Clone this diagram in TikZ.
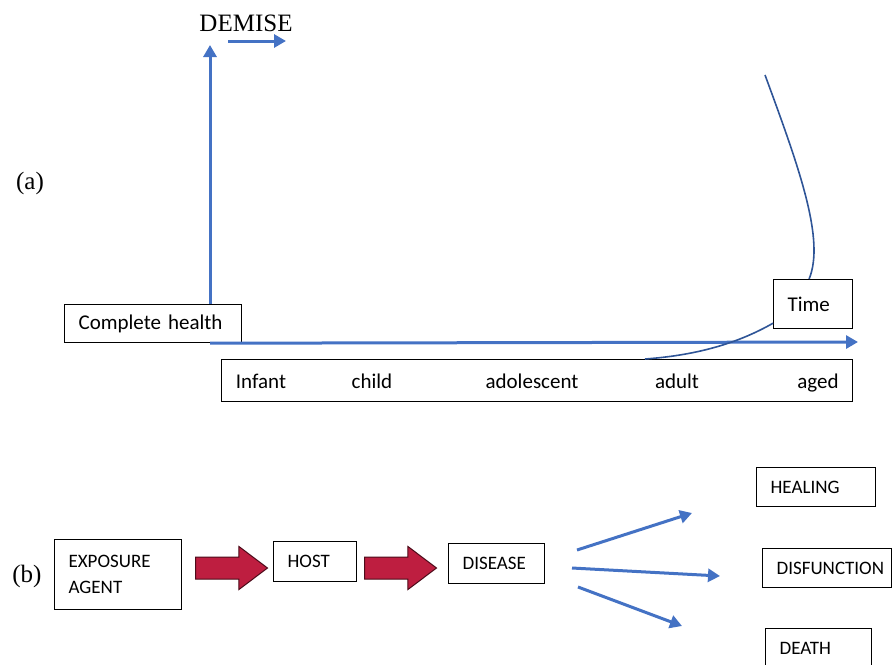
\documentclass[tikz,border=0pt]{standalone}
\usepackage{fontspec}
\setmainfont{Liberation Serif}
\setsansfont{Carlito}
\usetikzlibrary{arrows.meta,shapes.arrows}
\definecolor{axisblue}{HTML}{4472C4}
\definecolor{curveblue}{HTML}{2F5597}
\definecolor{blockred}{HTML}{BE1E40}

\begin{document}
\begin{tikzpicture}[x=0.5pt,y=-0.5pt,
  box/.style={draw,line width=0.6pt,fill=white,anchor=north west,inner xsep=7pt,inner ysep=0pt,align=left,font=\sffamily\fontsize{9.5}{13}\selectfont},
  lbl/.style={font=\sffamily\fontsize{10.5}{12}\selectfont},
  tag/.style={font=\fontsize{12.5}{14}\selectfont},
  axis/.style={axisblue,line width=1.5pt,-{Triangle[length=6pt,width=6.5pt]}},
  curve/.style={curveblue,line width=0.8pt},
  blockarrow/.style={single arrow,anchor=tail,draw=black!60!blockred,fill=blockred,line width=0.5pt,inner sep=5.25pt,single arrow head extend=5.25pt,single arrow tip angle=74,minimum height=36pt}]

\useasboundingbox (0,0) rectangle (892,664);

% (a) health over the life course
\node[tag] (labela) at (30,183) {(a)};
\node[tag] (demise) at (246,23) {DEMISE};
\node[box,lbl,text width=74.5pt,minimum height=19pt] (health) at (64,304) {Complete health};
\node[box,minimum width=315.5pt,minimum height=21pt] (timeline) at (221,359) {};
\node[box,lbl,text width=25.5pt,minimum height=24.5pt] (time) at (773,279) {Time};

\node[lbl,anchor=base] (infant) at (261,388) {Infant};
\node[lbl,anchor=base] (child) at (372,388) {child};
\node[lbl,anchor=base] (adolescent) at (532,388) {adolescent};
\node[lbl,anchor=base] (adult) at (677,388) {adult};
\node[lbl,anchor=base] (aged) at (818,388) {aged};

\coordinate (ytop) at (210,45);
\coordinate (xend) at (858,342);
\draw[axis] (health.north -| ytop) -- (ytop);
\draw[axis] (health.south -| ytop) -- (xend);

\coordinate (d1) at (228,41);
\coordinate (d2) at (286,41);
\draw[axis] (d1) -- (d2);

\coordinate (ctop) at (765,75);
\coordinate (tadult) at (645,359);
\draw[curve] (ctop) .. controls (800,170) and (825,240) .. ([xshift=-2pt]time.north);
\draw[curve] ([yshift=3pt]time.south west) .. controls (740,342) and (700,355) .. (tadult);

% (b) from exposure to outcome
\node[tag] (labelb) at (27,576) {(b)};
\node[box,text width=49.5pt,minimum height=35pt] (agent) at (54,539) {EXPOSURE\\AGENT};
\node[box,text width=27.5pt,minimum height=20pt] (host) at (273,541) {HOST};
\node[box,text width=34pt,minimum height=20pt] (disease) at (448,543) {DISEASE};
\node[blockarrow] (arrA) at (195,568) {};
\node[blockarrow] (arrB) at (364,568) {};

\node[box,text width=45.5pt,minimum height=19.5pt] (healing) at (756,467) {HEALING};
\node[box,text width=50.5pt,minimum height=19.5pt] (disfunction) at (762,548) {DISFUNCTION};
\node[box,text width=39pt,minimum height=26pt,text depth=6pt] (death) at (765,628) {DEATH};

\coordinate (fanA) at (577,550);
\coordinate (fanB) at (572,568);
\coordinate (fanC) at (578,587);
\coordinate (toHeal) at (692,513);
\coordinate (toDis) at (720,576);
\coordinate (toDeath) at (682,626);
\draw[axis] (fanA) -- (toHeal);
\draw[axis] (fanB) -- (toDis);
\draw[axis] (fanC) -- (toDeath);
\end{tikzpicture}
\end{document}
